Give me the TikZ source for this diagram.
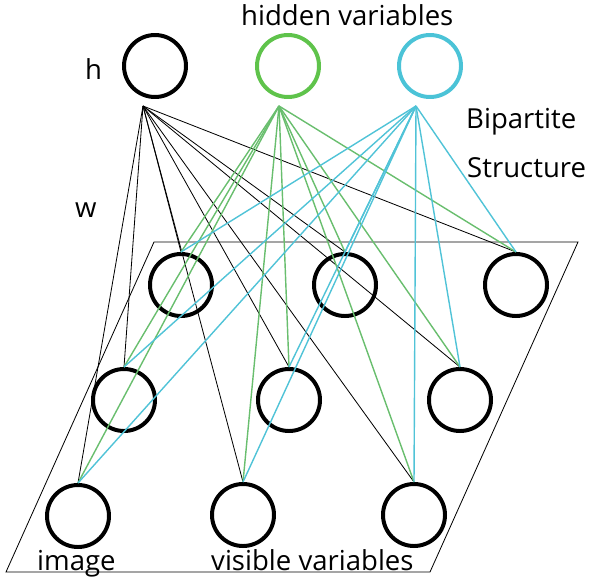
\documentclass[tikz,border=0pt]{standalone}
\usepackage{fontspec}
\setmainfont{Open Sans}
\usetikzlibrary{positioning}
\definecolor{hidgreen}{RGB}{95, 195, 75}
\definecolor{hidcyan}{RGB}{75, 195, 215}
\definecolor{edgegreen}{RGB}{105, 190, 110}
\definecolor{edgecyan}{RGB}{80, 195, 215}
\tikzset{
  unitnode/.style={circle, draw, line width=3.4pt, minimum size=1.86cm, inner sep=0pt},
  visnode/.style={unitnode, draw=black},
  hblack/.style={unitnode, draw=black},
  hgreen/.style={unitnode, draw=hidgreen},
  hcyan/.style={unitnode, draw=hidcyan},
  wblack/.style={line width=0.7pt, black},
  wgreen/.style={line width=1.2pt, edgegreen},
  wcyan/.style={line width=1.2pt, edgecyan},
  planeline/.style={line width=0.7pt, black},
  lbl/.style={font=\fontsize{23.5}{28}\selectfont, inner sep=0pt, anchor=base west},
}

\begin{document}
\begin{tikzpicture}[x=0.03cm, y=-0.03cm]
  \useasboundingbox (0,0) rectangle (590,583);
  % image plane
  \coordinate (p1) at (154,242);
  \coordinate (p2) at (578,242);
  \coordinate (p3) at (430,572);
  \coordinate (p4) at (6,572);
  \draw[planeline] (p1) -- (p2) -- (p3) -- (p4) -- cycle;
  % hidden layer
  \node[hblack] (h1) at (155,66) {};
  \node[hgreen] (h2) at (288,66) {};
  \node[hcyan] (h3) at (430,66) {};
  \coordinate (hh) at (143,106);
  \coordinate (hg) at (279,106);
  \coordinate (hc) at (416,106);
  % visible layer
  \node[visnode] (v11) at (181,285) {};
  \node[visnode] (v12) at (345,285) {};
  \node[visnode] (v13) at (516,285) {};
  \node[visnode] (v21) at (124,400) {};
  \node[visnode] (v22) at (289,400) {};
  \node[visnode] (v23) at (460,400) {};
  \node[visnode] (v31) at (78,516) {};
  \node[visnode] (v32) at (243,515) {};
  \node[visnode] (v33) at (414,515) {};
  % weights
  \foreach \hub/\sty in {hh/wblack, hg/wgreen, hc/wcyan}
    \foreach \v in {v11,v12,v13,v21,v22,v23,v31,v32,v33}
      \draw[\sty] (\hub) -- (\v.north);
  % labels
  \node[lbl] (hlbl) at (85,79) {h};
  \node[lbl] (hidlbl) at (241,25) {hidden variables};
  \node[lbl] (biplbl) at (466,128) {Bipartite};
  \node[lbl] (strlbl) at (467,177) {Structure};
  \node[lbl] (wlbl) at (75,217) {w};
  \node[lbl] (imglbl) at (37,570) {image};
  \node[lbl] (vislbl) at (211,570) {visible variables};
\end{tikzpicture}
\end{document}
